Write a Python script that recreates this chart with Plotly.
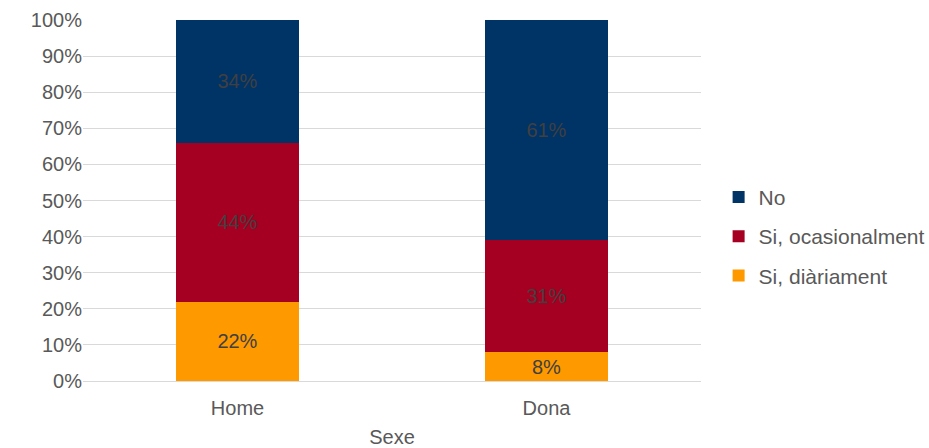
import plotly.graph_objects as go

# Survey results by sex (percent of respondents)
categories = ["Home", "Dona"]
series_names = ["Si, diàriament", "Si, ocasionalment", "No"]
series_values = [
    [22, 8],   # Si, diàriament
    [44, 31],  # Si, ocasionalment
    [34, 61],  # No
]
series_colors = ["#FF9900", "#A50021", "#003366"]
legend_ranks = [3, 2, 1]
y_tick_values = [0, 10, 20, 30, 40, 50, 60, 70, 80, 90, 100]
y_tick_labels = [f"{v}%" for v in y_tick_values]

FONT = "Liberation Sans, Arial, sans-serif"

fig = go.Figure()
for name, vals, color, rank in zip(series_names, series_values, series_colors, legend_ranks):
    fig.add_trace(go.Bar(
        x=categories,
        y=vals,
        name=name,
        legendgroup=name,
        legendrank=rank,
        marker=dict(color=color, line=dict(width=0)),
        text=[f"{v}%" for v in vals],
        textposition="inside",
        insidetextanchor="middle",
        textangle=0,
        textfont=dict(family=FONT, size=20, color="#404040"),
        constraintext="none",
        hoverinfo="skip",
    ))

fig.update_layout(
    barmode="stack",
    bargap=0.6,
    width=929,
    height=448,
    margin=dict(l=83, r=228, t=20, b=67, autoexpand=False),
    paper_bgcolor="white",
    plot_bgcolor="white",
    font=dict(family=FONT, size=20, color="#595959"),
    legend=dict(
        x=1.0285,
        xanchor="left",
        y=0.401,
        yanchor="middle",
        traceorder="grouped",
        tracegroupgap=9,
        font=dict(family=FONT, size=21, color="#595959"),
        bgcolor="rgba(0,0,0,0)",
    ),
    xaxis=dict(
        title=dict(text="Sexe", font=dict(size=20, color="#595959"), standoff=14),
        automargin=False,
        showgrid=False,
        showline=True,
        linecolor="#D9D9D9",
        linewidth=1,
        ticks="",
        ticklabelstandoff=9,
        tickfont=dict(size=20, color="#595959"),
    ),
    yaxis=dict(
        range=[0, 100],
        automargin=False,
        tickvals=y_tick_values,
        ticktext=y_tick_labels,
        showgrid=True,
        gridcolor="#D9D9D9",
        gridwidth=1,
        zeroline=False,
        showline=False,
        ticks="",
        ticklabelstandoff=0,
        tickfont=dict(size=20, color="#595959"),
    ),
)

fig.write_html("out.html")
